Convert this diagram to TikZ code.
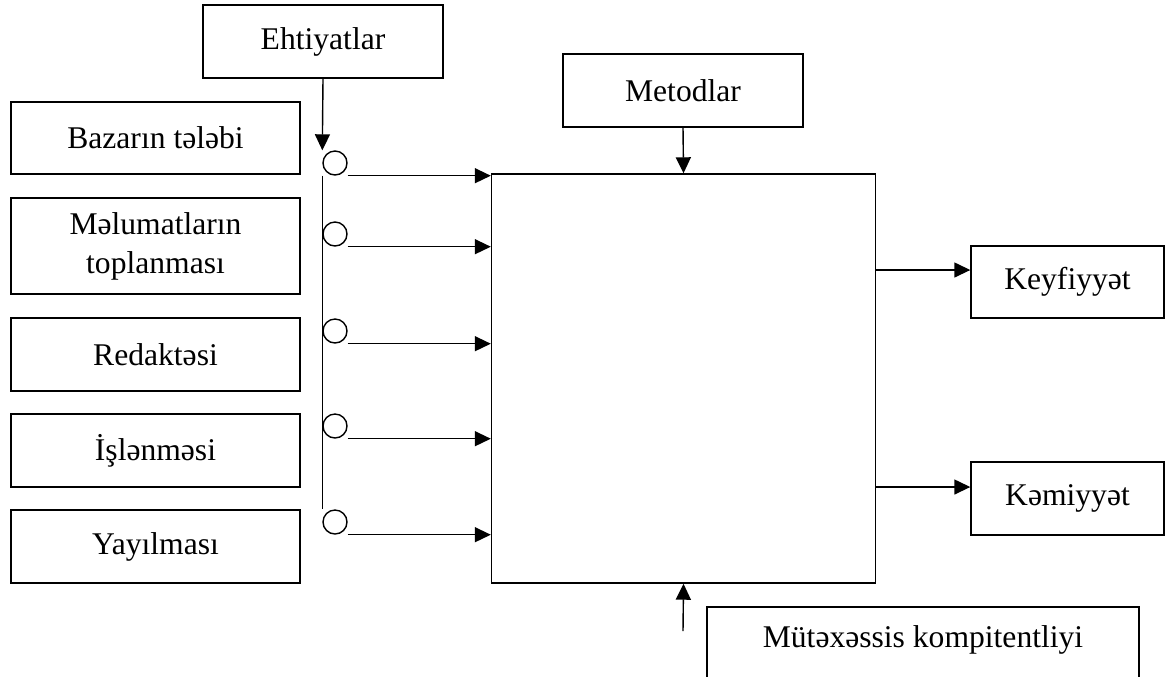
\documentclass[tikz,border=0pt]{standalone}
\usepackage{fontspec}
\setmainfont{Liberation Serif}
\usetikzlibrary{arrows.meta,positioning}

\begin{document}
\begin{tikzpicture}[x=0.5pt,y=-0.5pt,line width=0.7pt,
        font=\fontsize{15.8}{19.5}\selectfont,
        box/.style={draw,inner sep=0pt,align=center,minimum width=144.5pt,minimum height=36.5pt},
        knot/.style={draw,circle,inner sep=0pt,minimum size=12pt},
        arr/.style={-{Triangle[length=8pt,width=7.5pt]}}]
    \useasboundingbox (0,0) rectangle (1170,676);
    \clip (0,0) rectangle (1170,676);
        \node[box,minimum width=120pt] (ehtiyat) at (323,41.5) {Ehtiyatlar};
        \node[box,minimum height=36pt] (bazar) at (155.5,138) {Bazarın tələbi};
        \node[box,minimum height=48pt] (melumat) at (155.5,246) {Məlumatların\\toplanması};
        \node[box] (redakte) at (155.5,354.5) {Redaktəsi};
        \node[box] (islenme) at (155.5,450.5) {İşlənməsi};
        \node[box] (yayilma) at (155.5,546.5) {Yayılması};
        \node[box,minimum width=192pt,minimum height=204.5pt] (main) at (683.5,378.5) {};
        \node[box,minimum width=120pt] (metod) at (683,90.5) {Metodlar};
        \node[box,minimum width=96.5pt,minimum height=36pt] (keyf) at (1067.5,282) {Keyfiyyət};
        \node[box,minimum width=96.5pt] (kemiyyet) at (1067.5,498.5) {Kəmiyyət};
        \node[draw,inner sep=0pt,minimum width=216pt,text height=20pt,text depth=40pt,anchor=base] (mutexessis) at (923,647) {Mütəxəssis kompitentliyi};

        \foreach \n/\y in {1/163,2/234,3/331,4/426,5/522}{
            \node[knot] (c\n) at (335,\y) {};
            \draw[arr] (c\n.south -| c\n.east) -- (c\n.south -| main.west);
        }
        \draw (c1.south -| c1.west) -- (c5.north -| c5.west);
        \draw[arr] (ehtiyat.south) -- (c1.north -| c1.west);
        \draw[arr] (metod.south) -- (main.north);

        \coordinate (mtail) at (683,631);
        \draw[arr] (mtail) -- (main.south);

        \coordinate (k1) at (876,270);
        \coordinate (k2) at (876,487);
        \draw[arr] (k1) -- (k1 -| keyf.west);
        \draw[arr] (k2) -- (k2 -| kemiyyet.west);
    \end{tikzpicture}
\end{document}
